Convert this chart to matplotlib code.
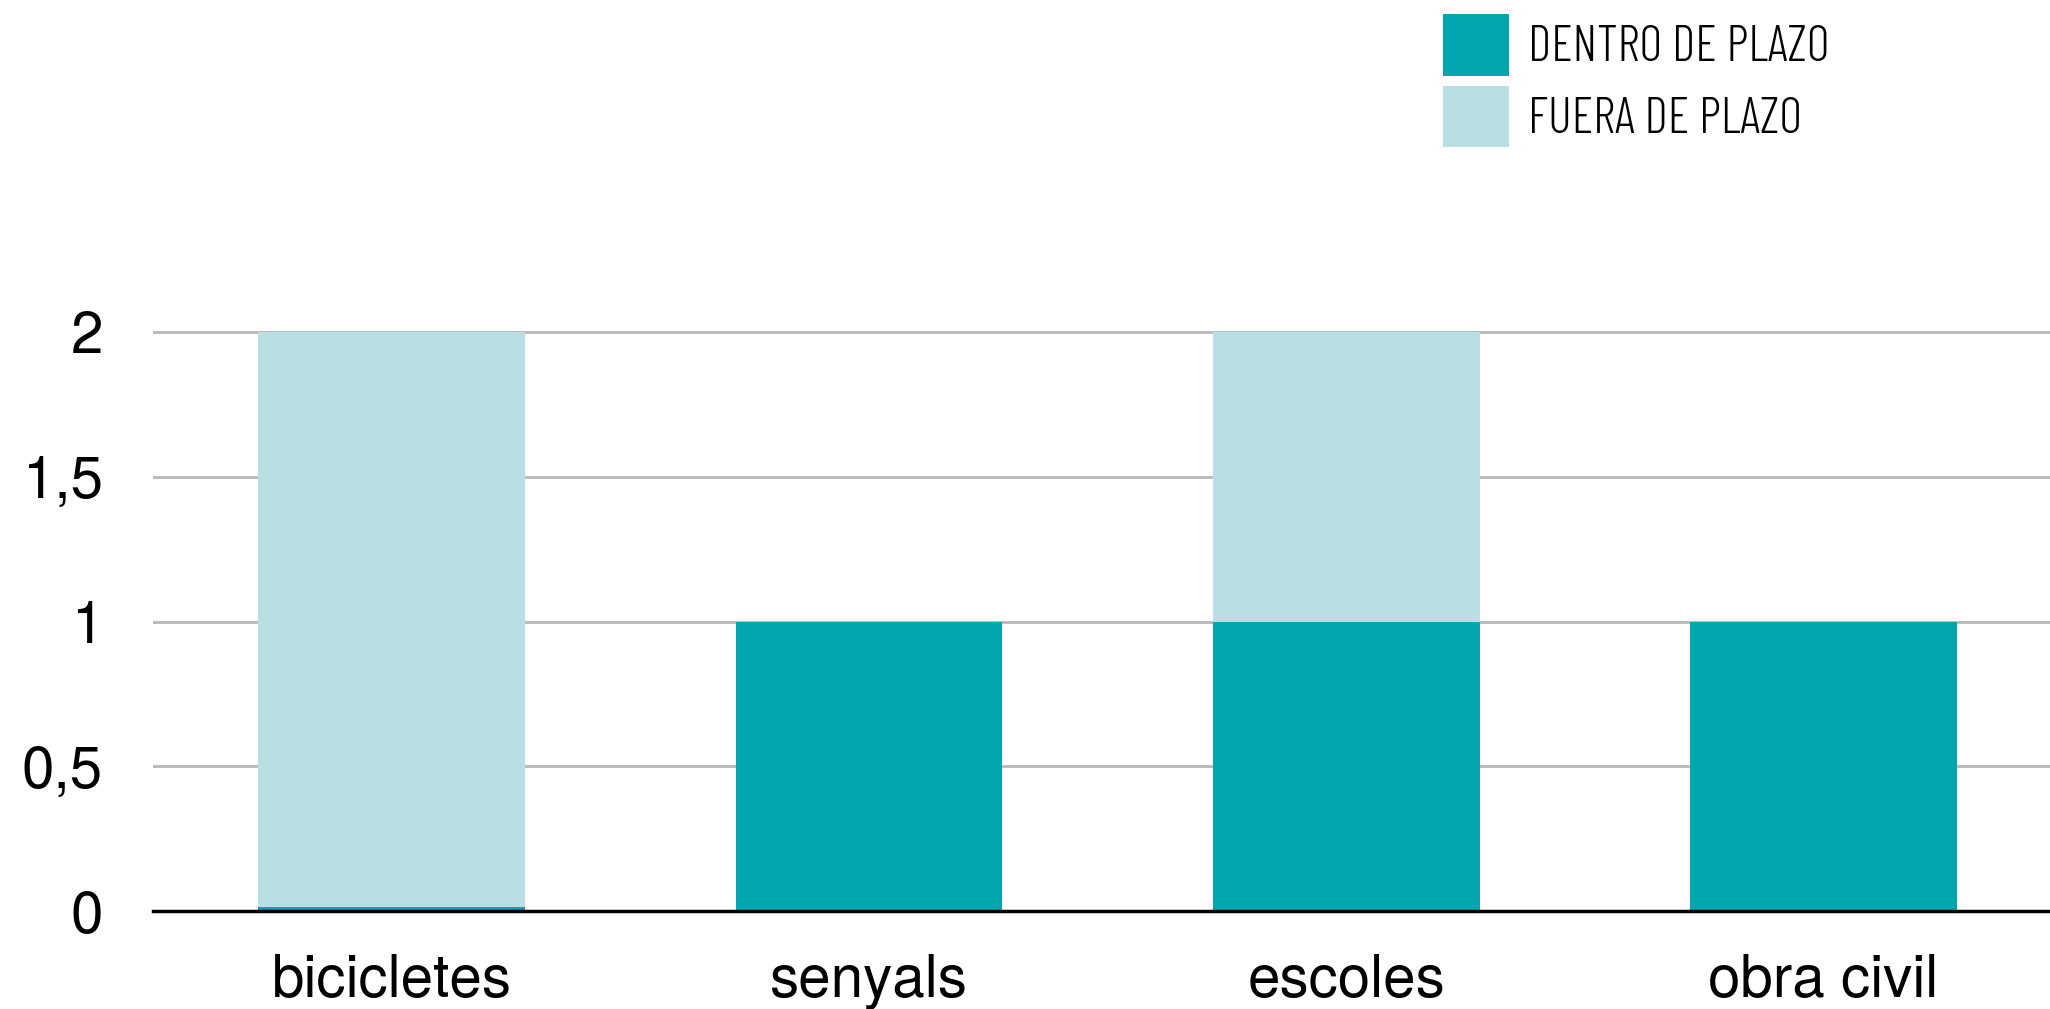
import matplotlib
matplotlib.use('Agg')
import matplotlib.pyplot as plt
from matplotlib.patches import Patch

# data
categories = ['bicicletes', 'senyals', 'escoles', 'obra civil']
dentro = [0.015, 1, 1, 1]
fuera = [1.985, 0, 1, 0]
yticks = [0, 0.5, 1, 1.5, 2]
ytick_labels = ['0', '0,5', '1', '1,5', '2']
legend_labels = ['DENTRO DE PLAZO', 'FUERA DE PLAZO']

c_dentro = '#02A6AE'
c_fuera = '#B9DFE4'

W, H = 2050, 1009
fig = plt.figure(figsize=(W / 100, H / 100), dpi=100)

# axes placed in pixels: left 153, zero line at y=911, 289.5 px per unit, 477.3 px per category
ppu = 289.5
ymax = 2.05
step = 477.3
ax = fig.add_axes([153 / W, (H - 911) / H, 4 * step / W, ymax * ppu / H])

x = list(range(len(categories)))
ax.bar(x, dentro, width=0.559, color=c_dentro, zorder=3)
ax.bar(x, fuera, width=0.559, bottom=dentro, color=c_fuera, zorder=3)

ax.set_xlim(-0.5, 3.5)
ax.set_ylim(0, ymax)
ax.set_yticks(yticks)
ax.set_yticklabels(ytick_labels)
ax.set_xticks(x)
ax.set_xticklabels(categories)

lab_font = 'TeX Gyre Heros'
ax.tick_params(axis='y', length=0, pad=36, labelsize=42)
ax.tick_params(axis='x', length=0, pad=31, labelsize=42)
for t in ax.get_xticklabels() + ax.get_yticklabels():
    t.set_family([lab_font, 'Liberation Sans', 'DejaVu Sans'])

ax.grid(axis='y', color='#b8b8b8', linewidth=2, zorder=1)
ax.set_axisbelow(True)
for s in ['top', 'right', 'left']:
    ax.spines[s].set_visible(False)
ax.spines['bottom'].set_color('black')
ax.spines['bottom'].set_linewidth(2.5)
ax.spines['bottom'].set_zorder(4)

handles = [Patch(facecolor=c_dentro, edgecolor='none'), Patch(facecolor=c_fuera, edgecolor='none')]
fig.legend(handles, legend_labels, loc='upper left', bbox_to_anchor=(1443 / W, 1 - 14 / H),
           frameon=False, borderpad=0, borderaxespad=0, handlelength=1.32, handleheight=1.52,
           handletextpad=0.37, labelspacing=0.2,
           prop={'family': ['Barlow Condensed', 'DejaVu Sans'], 'weight': 300, 'size': 36})

fig.savefig('out.png', dpi=100)
